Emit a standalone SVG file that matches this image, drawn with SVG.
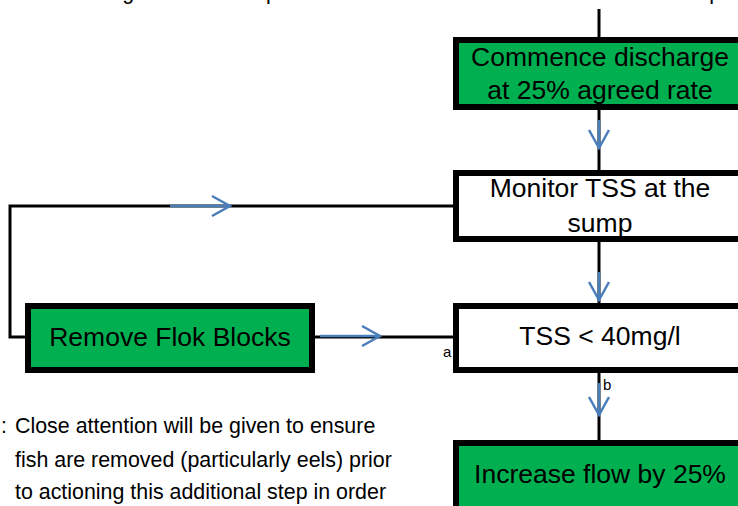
<svg xmlns="http://www.w3.org/2000/svg" width="738" height="506" viewBox="0 0 738 506">
<style>
.box{stroke:#000;stroke-width:6}
.g{fill:#00B050}
.w{fill:#fff}
.t{font-family:"Liberation Sans",Arial,sans-serif;font-size:26.5px;fill:#000;text-anchor:middle}
.s{font-family:"Liberation Sans",Arial,sans-serif;font-size:15px;fill:#000}
.n{font-family:"Liberation Sans",Arial,sans-serif;font-size:21.4px;fill:#000}
.ln{stroke:#000;stroke-width:3;fill:none}
.ar{stroke:#4A7EBB;stroke-width:2.5;fill:none;marker-end:url(#v)}
</style>
<defs>
<marker id="v" markerUnits="userSpaceOnUse" viewBox="-21 -12 24 24" markerWidth="24" markerHeight="24" refX="0" refY="0" orient="auto">
<path d="M-18,-10 L0,0 L-18,10" fill="none" stroke="#4A7EBB" stroke-width="2.5"/>
</marker>
</defs>
<rect width="738" height="506" fill="#fff"/>
<text class="n" x="8" y="-1">The following additional steps will be taken if the TSS is not addressed as part of the discharge</text>
<g id="connectors">
<line class="ln" x1="599" y1="9" x2="599" y2="40"/>
<line class="ln" x1="599" y1="107" x2="599" y2="173"/>
<line class="ln" x1="599" y1="239" x2="599" y2="306"/>
<line class="ln" x1="599" y1="370" x2="599" y2="443"/>
<polyline class="ln" points="456,206 10,206 10,337 28,337"/>
<line class="ln" x1="312" y1="337" x2="456" y2="337"/>
<line class="ar" x1="599" y1="120" x2="599" y2="148"/>
<line class="ar" x1="599" y1="272" x2="599" y2="300"/>
<line class="ar" x1="599" y1="383" x2="599" y2="415"/>
<line class="ar" x1="170" y1="206" x2="230" y2="206"/>
<line class="ar" x1="320" y1="336" x2="380" y2="336"/>
</g>
<g id="commence">
<rect class="box g" x="456" y="40" width="288" height="67"/>
<text class="t" x="600" y="66">Commence discharge</text>
<text class="t" x="600" y="99">at 25% agreed rate</text>
</g>
<g id="monitor">
<rect class="box w" x="456" y="173" width="288" height="66"/>
<text class="t" x="600" y="197">Monitor TSS at the</text>
<text class="t" x="600" y="232">sump</text>
</g>
<g id="tss">
<rect class="box w" x="456" y="306" width="288" height="64"/>
<text class="t" x="600" y="345">TSS &lt; 40mg/l</text>
</g>
<g id="remove">
<rect class="box g" x="28" y="306" width="284" height="64"/>
<text class="t" x="170" y="346">Remove Flok Blocks</text>
</g>
<g id="increase">
<rect class="box g" x="456" y="443" width="288" height="80"/>
<text class="t" x="600" y="483">Increase flow by 25%</text>
</g>
<text class="s" x="443" y="357">a</text>
<text class="s" x="603" y="390">b</text>
<g id="note">
<text class="n" x="1" y="433">:</text>
<text class="n" x="15" y="433">Close attention will be given to ensure</text>
<text class="n" x="15" y="467">fish are removed (particularly eels) prior</text>
<text class="n" x="15" y="499">to actioning this additional step in order</text>
</g>
</svg>
